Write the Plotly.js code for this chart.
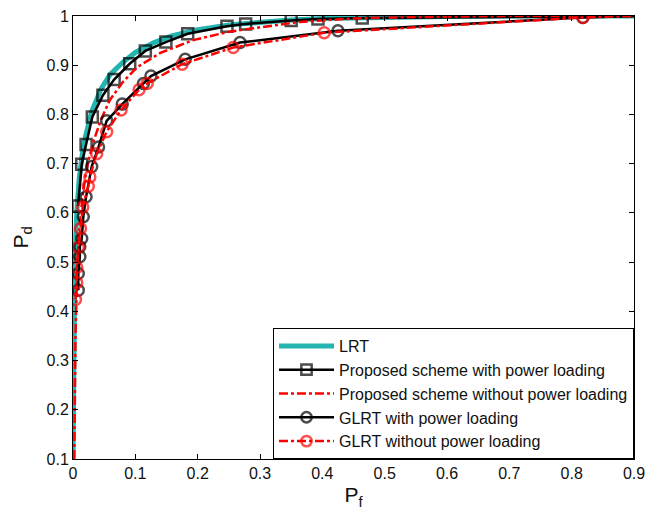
<!DOCTYPE html>
<html><head><meta charset="utf-8">
<script src="https://cdn.plot.ly/plotly-3.0.1.min.js"></script>
<style>html,body{margin:0;padding:0;background:#fff}#chart{width:646px;height:510px}</style>
</head><body><div id="chart"></div>
<script>
// LRT (no markers)
const lrtPf = [0, 0.001, 0.003, 0.006, 0.01, 0.015, 0.02, 0.03, 0.045, 0.06, 0.08, 0.1, 0.13, 0.16, 0.2, 0.25, 0.3, 0.35, 0.4, 0.5, 0.6, 0.7, 0.8, 0.9];
const lrtPd = [0.1, 0.35, 0.5, 0.6, 0.67, 0.72, 0.755, 0.806, 0.852, 0.882, 0.906, 0.926, 0.946, 0.96, 0.972, 0.982, 0.988, 0.992, 0.995, 0.998, 0.999, 1, 1, 1];
// Proposed scheme with power loading (squares); last point is curve end
const propPlPf = [0.008, 0.014, 0.021, 0.031, 0.048, 0.066, 0.091, 0.116, 0.149, 0.184, 0.247, 0.277, 0.350, 0.393, 0.464, 0.9];
const propPlPd = [0.614, 0.699, 0.739, 0.795, 0.839, 0.871, 0.903, 0.929, 0.947, 0.964, 0.979, 0.984, 0.991, 0.994, 0.996, 1];
// Proposed scheme without power loading (no markers)
const propNoPf = [0.002, 0.004, 0.007, 0.011, 0.016, 0.022, 0.032, 0.045, 0.059, 0.08, 0.103, 0.14, 0.193, 0.25, 0.289, 0.364, 0.45, 0.55, 0.7, 0.9];
const propNoPd = [0.1, 0.35, 0.5, 0.58, 0.64, 0.69, 0.742, 0.79, 0.829, 0.866, 0.896, 0.925, 0.951, 0.968, 0.975, 0.988, 0.995, 0.998, 1, 1];
// GLRT with power loading (circles); last point is curve end
const glrtPlPf = [0.0085, 0.0085, 0.011, 0.011, 0.014, 0.0165, 0.021, 0.030, 0.041, 0.054, 0.079, 0.113, 0.125, 0.180, 0.268, 0.425, 0.818, 0.9];
const glrtPlPd = [0.443, 0.477, 0.511, 0.531, 0.548, 0.592, 0.633, 0.694, 0.734, 0.787, 0.821, 0.863, 0.878, 0.912, 0.946, 0.970, 0.997, 1];
// GLRT without power loading (circles); last point is curve end
const glrtNoPf = [0.004, 0.006, 0.006, 0.0085, 0.012, 0.0156, 0.0245, 0.027, 0.038, 0.054, 0.077, 0.106, 0.119, 0.175, 0.257, 0.403, 0.818, 0.9];
const glrtNoPd = [0.424, 0.458, 0.489, 0.530, 0.568, 0.612, 0.654, 0.673, 0.720, 0.765, 0.809, 0.850, 0.863, 0.902, 0.936, 0.966, 0.997, 1];

const names = ['LRT', 'Proposed scheme with power loading', 'Proposed scheme without power loading', 'GLRT with power loading', 'GLRT without power loading'];
const xTicks = [0, 0.1, 0.2, 0.3, 0.4, 0.5, 0.6, 0.7, 0.8, 0.9];
const yTicks = [0.1, 0.2, 0.3, 0.4, 0.5, 0.6, 0.7, 0.8, 0.9, 1];

const sizesFor = (arr, s) => arr.map((_, i) => i === arr.length - 1 ? 0 : s);

const traces = [
  {x: lrtPf, y: lrtPd, name: names[0], mode: 'lines', line: {color: '#25b5b0', width: 5}},
  {x: propPlPf, y: propPlPd, name: names[1], mode: 'lines+markers', line: {color: '#000', width: 2.5},
   marker: {symbol: 'square-open', size: sizesFor(propPlPf, 11), color: '#000', line: {width: 2.5, color: '#000'}}},
  {x: propNoPf, y: propNoPd, name: names[2], mode: 'lines', line: {color: '#ff0000', width: 2.5, dash: 'dashdot'}},
  {x: glrtPlPf, y: glrtPlPd, name: names[3], mode: 'lines+markers', line: {color: '#000', width: 2.5},
   marker: {symbol: 'circle-open', size: sizesFor(glrtPlPf, 11), color: '#000', line: {width: 2.5, color: '#000'}}},
  {x: glrtNoPf, y: glrtNoPd, name: names[4], mode: 'lines+markers', line: {color: '#ff0000', width: 2.5, dash: 'dashdot'},
   marker: {symbol: 'circle-open', size: sizesFor(glrtNoPf, 11), color: '#ff0000', line: {width: 2.5, color: '#ff0000'}}}
];

const axisBase = {
  showline: true, linecolor: '#000', linewidth: 1, mirror: 'ticks',
  ticks: 'inside', ticklen: 5, tickcolor: '#000', showgrid: false, zeroline: false,
  tickfont: {family: 'Liberation Sans, Arial, sans-serif', size: 16, color: '#111'}
};

const layout = {
  width: 646, height: 510,
  margin: {l: 73, r: 12, t: 16, b: 51},
  paper_bgcolor: '#fff', plot_bgcolor: '#fff',
  font: {family: 'Liberation Sans, Arial, sans-serif', color: '#111'},
  showlegend: true,
  legend: {x: 1, xanchor: 'right', y: 0, yanchor: 'bottom', bgcolor: '#fff', bordercolor: '#000', borderwidth: 1,
           font: {size: 16, color: '#111'}, itemwidth: 55, tracegroupgap: 0},
  xaxis: Object.assign({}, axisBase, {range: [0, 0.9], tickvals: xTicks, ticktext: xTicks.map(String),
    title: {text: 'P<sub>f</sub>', font: {size: 21}, standoff: 6}}),
  yaxis: Object.assign({}, axisBase, {range: [0.1, 1], tickvals: yTicks, ticktext: yTicks.map(String),
    title: {text: 'P<sub>d</sub>', font: {size: 21}, standoff: 12}})
};

Plotly.newPlot('chart', traces, layout, {displayModeBar: false, staticPlot: true});
</script></body></html>
